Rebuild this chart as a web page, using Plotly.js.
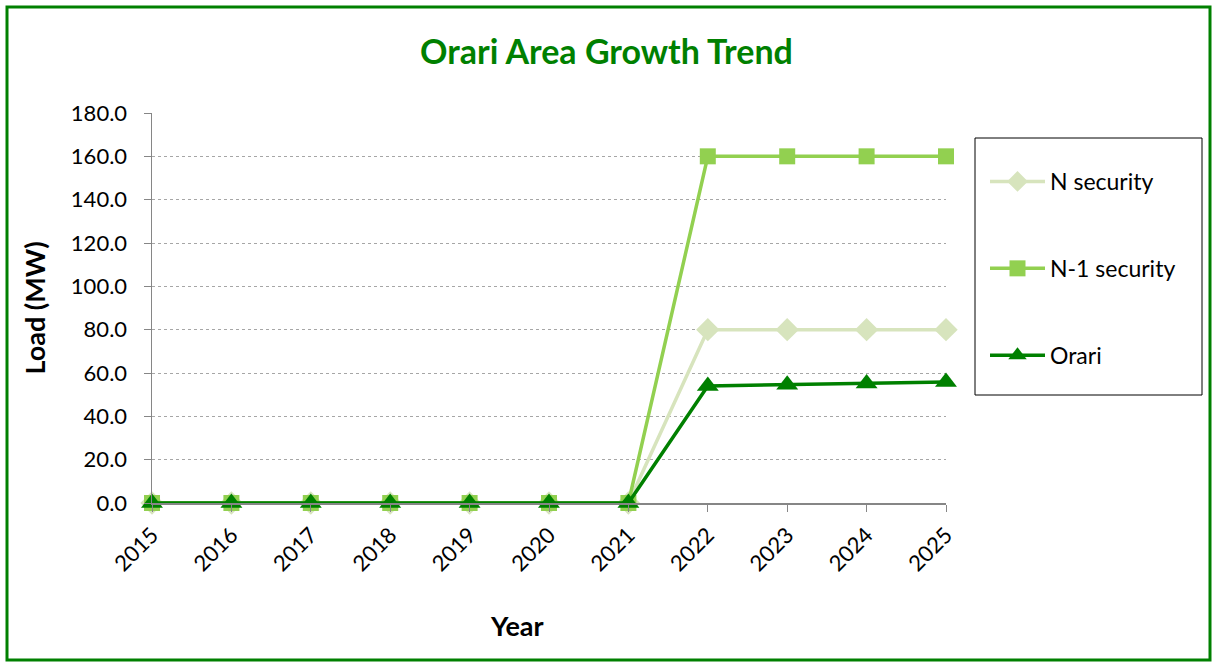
<!DOCTYPE html>
<html>
<head>
<meta charset="utf-8">
<script src="https://cdn.plot.ly/plotly-3.0.1.min.js"></script>
<style>
  html, body { margin: 0; padding: 0; background: #fff; }
  #chart { width: 1213px; height: 662px; }
</style>
</head>
<body>
<div id="chart"></div>
<script>
// Load growth for the Orari area, 2015-2025 (MW)
const years = ['2015','2016','2017','2018','2019','2020','2021','2022','2023','2024','2025'];
const nSecurity = [0, 0, 0, 0, 0, 0, 0, 80, 80, 80, 80];
const n1Security = [0, 0, 0, 0, 0, 0, 0, 160, 160, 160, 160];
const orariLoad = [0, 0, 0, 0, 0, 0, 0, 54.0, 54.6, 55.2, 55.9];

const FONT = 'Lato, "Open Sans", sans-serif';

const traces = [
  {
    name: 'N security', x: years, y: nSecurity, type: 'scatter', mode: 'lines+markers',
    line: {color: '#d7e4bd', width: 3.5},
    marker: {symbol: 'diamond', size: 18, color: '#d7e4bd'},
    cliponaxis: false, legendgroup: 'a'
  },
  {
    name: 'N-1 security', x: years, y: n1Security, type: 'scatter', mode: 'lines+markers',
    line: {color: '#92d050', width: 3.5},
    marker: {symbol: 'square', size: 16, color: '#92d050'},
    cliponaxis: false, legendgroup: 'b'
  },
  {
    name: 'Orari', x: years, y: orariLoad, type: 'scatter', mode: 'lines+markers',
    line: {color: '#008000', width: 3.5},
    marker: {symbol: 'triangle-up', size: 19, color: '#008000'},
    cliponaxis: false, legendgroup: 'c'
  }
];

const layout = {
  width: 1213, height: 662,
  margin: {l: 152, r: 267, t: 113, b: 159},
  paper_bgcolor: '#fff', plot_bgcolor: '#fff',
  font: {family: FONT, size: 22, color: '#000'},
  showlegend: true,
  title: {
    text: '<b>Orari Area Growth Trend</b>',
    font: {family: FONT, size: 34, color: '#008000'},
    x: 0.5, xref: 'container', xanchor: 'center',
    y: 1 - 52/662, yref: 'container', yanchor: 'middle'
  },
  xaxis: {
    type: 'category', range: [0, 10],
    showline: true, linecolor: '#868686', linewidth: 1.5,
    ticks: 'outside', ticklen: 7, tickcolor: '#868686',
    tickangle: -45, showgrid: false, zeroline: false,
    ticklabelstandoff: 2,
    tickfont: {family: FONT, size: 22, color: '#000'}
  },
  yaxis: {
    range: [0, 180], dtick: 20, tickformat: '.1f',
    showline: true, linecolor: '#868686', linewidth: 1.5,
    ticks: 'outside', ticklen: 7, tickcolor: '#868686',
    showgrid: true, gridcolor: '#a6a6a6', griddash: 'dot', gridwidth: 1,
    zeroline: false, ticklabelstandoff: 12,
    tickfont: {family: FONT, size: 22, color: '#000'},
    title: {text: '<b>Load (MW)</b>', font: {family: FONT, size: 27, color: '#000'}, standoff: 17}
  },
  legend: {
    x: (985 - 152) / 794, xanchor: 'left',
    y: (503 - 160) / 390, yanchor: 'top',
    bgcolor: 'rgba(0,0,0,0)', borderwidth: 0,
    font: {family: FONT, size: 23, color: '#000'},
    tracegroupgap: 54, itemwidth: 55,
    traceorder: 'grouped'
  },
  annotations: [
    {text: '<b>Year</b>', xref: 'paper', yref: 'paper',
     x: (517 - 152) / 794, y: (503 - 625) / 390,
     xanchor: 'center', yanchor: 'middle', showarrow: false,
     font: {family: FONT, size: 27, color: '#000'}}
  ],
  shapes: [
    // outer chart frame
    {type: 'rect', xref: 'paper', yref: 'paper',
     x0: (7 - 152) / 794, x1: (1210 - 152) / 794,
     y0: (503 - 660) / 390, y1: (503 - 7) / 390,
     line: {color: '#008000', width: 3}},
    // legend box
    {type: 'rect', xref: 'paper', yref: 'paper',
     x0: (975 - 152) / 794, x1: (1202 - 152) / 794,
     y0: (503 - 395) / 390, y1: (503 - 138) / 390,
     line: {color: '#000', width: 1}}
  ]
};

Plotly.newPlot('chart', traces, layout, {displayModeBar: false, staticPlot: true});
</script>
</body>
</html>
